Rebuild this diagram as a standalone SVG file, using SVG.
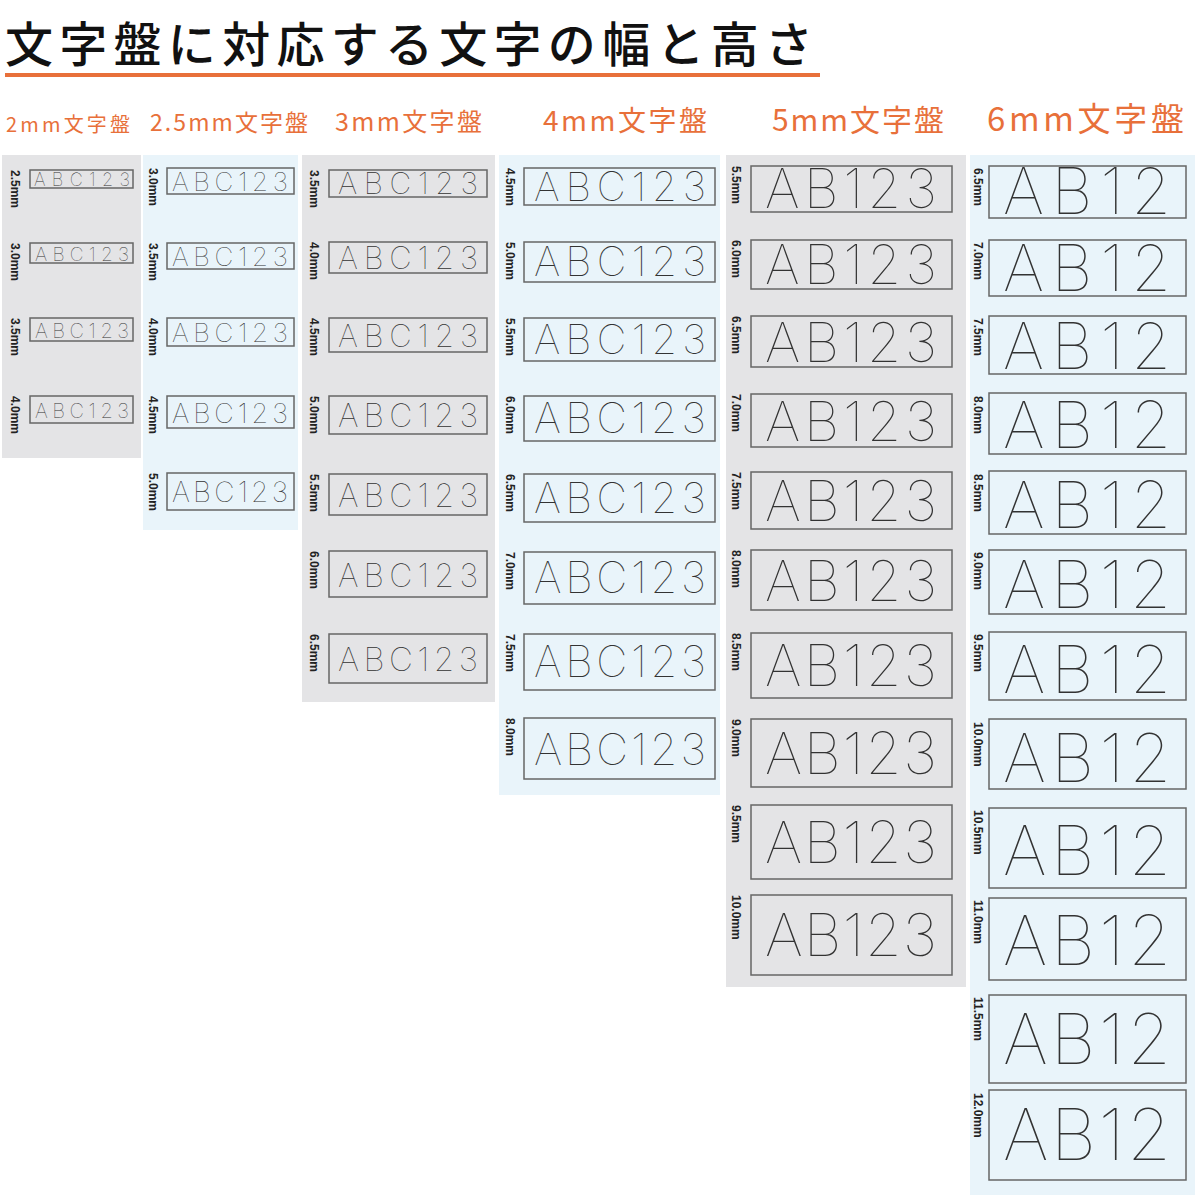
<svg xmlns="http://www.w3.org/2000/svg" width="1200" height="1200" viewBox="0 0 1200 1200">
<style>
.t{font-family:"Noto Sans CJK JP","Noto Sans",sans-serif}
.h{font-family:"Noto Sans CJK JP","Noto Sans",sans-serif;fill:#e8703a}
.b{fill:none;stroke:#666;stroke-width:1.5}
.c{font-family:Inter,"Noto Sans",sans-serif;font-weight:100;fill:#333;text-anchor:middle}
.l{font-family:"Liberation Sans",Arial,sans-serif;fill:#222;font-size:12px;font-weight:bold}
.g{fill:#e4e4e6}.u{fill:#e9f4fa}
</style>
<rect width="1200" height="1200" fill="#fff"/>
<text class="t" x="5" y="62" font-size="48" font-weight="500" fill="#111" textLength="808">文字盤に対応する文字の幅と高さ</text>
<rect x="5" y="73" width="815" height="4" fill="#e8703a"/>
<text class="h" x="6" y="132" font-size="20" textLength="124">2mm文字盤</text>
<text class="h" x="150" y="131" font-size="23" textLength="158">2.5mm文字盤</text>
<text class="h" x="335" y="131" font-size="25" textLength="147">3mm文字盤</text>
<text class="h" x="543" y="131" font-size="28" textLength="164">4mm文字盤</text>
<text class="h" x="772" y="131" font-size="30" textLength="172">5mm文字盤</text>
<text class="h" x="987" y="131" font-size="33" textLength="197">6mm文字盤</text>
<rect class="g" x="2" y="155" width="139" height="303"/>
<rect class="u" x="143" y="155" width="155" height="375"/>
<rect class="g" x="302" y="155" width="193" height="547"/>
<rect class="u" x="499" y="155" width="221" height="640"/>
<rect class="g" x="726" y="155" width="240" height="832"/>
<rect class="u" x="970" y="155" width="225" height="1040"/>
<g id="c1">
<rect class="b" x="30" y="170" width="103" height="18"/><text class="c" x="82" y="186" font-size="18" textLength="96">ABC123</text><text class="l" transform="translate(11,170) rotate(90)">2.5mm</text>
<rect class="b" x="30" y="243" width="103" height="20"/><text class="c" x="82" y="261" font-size="19" textLength="94">ABC123</text><text class="l" transform="translate(11,243) rotate(90)">3.0mm</text>
<rect class="b" x="30" y="318" width="103" height="23"/><text class="c" x="82" y="338" font-size="20" textLength="94">ABC123</text><text class="l" transform="translate(11,318) rotate(90)">3.5mm</text>
<rect class="b" x="30" y="396" width="103" height="27"/><text class="c" x="82" y="418" font-size="20" textLength="94">ABC123</text><text class="l" transform="translate(11,396) rotate(90)">4.0mm</text>
</g>
<g id="c2">
<rect class="b" x="167" y="168" width="127" height="26"/><text class="c" x="230" y="191" font-size="26" textLength="116">ABC123</text><text class="l" transform="translate(149,168) rotate(90)">3.0mm</text>
<rect class="b" x="167" y="243" width="127" height="26"/><text class="c" x="230" y="266" font-size="26" textLength="116">ABC123</text><text class="l" transform="translate(149,243) rotate(90)">3.5mm</text>
<rect class="b" x="167" y="318" width="127" height="28"/><text class="c" x="230" y="342" font-size="26" textLength="116">ABC123</text><text class="l" transform="translate(149,318) rotate(90)">4.0mm</text>
<rect class="b" x="167" y="396" width="127" height="32"/><text class="c" x="230" y="423" font-size="27" textLength="116">ABC123</text><text class="l" transform="translate(149,396) rotate(90)">4.5mm</text>
<rect class="b" x="167" y="473" width="127" height="37"/><text class="c" x="230" y="502" font-size="28" textLength="116">ABC123</text><text class="l" transform="translate(149,473) rotate(90)">5.0mm</text>
</g>
<g id="c3">
<rect class="b" x="329" y="170" width="158" height="27"/><text class="c" x="408" y="194" font-size="30" textLength="140">ABC123</text><text class="l" transform="translate(310,170) rotate(90)">3.5mm</text>
<rect class="b" x="329" y="242" width="158" height="31"/><text class="c" x="408" y="269" font-size="31" textLength="140">ABC123</text><text class="l" transform="translate(310,242) rotate(90)">4.0mm</text>
<rect class="b" x="329" y="318" width="158" height="34"/><text class="c" x="408" y="347" font-size="31" textLength="140">ABC123</text><text class="l" transform="translate(310,318) rotate(90)">4.5mm</text>
<rect class="b" x="329" y="396" width="158" height="38"/><text class="c" x="408" y="427" font-size="32" textLength="140">ABC123</text><text class="l" transform="translate(310,396) rotate(90)">5.0mm</text>
<rect class="b" x="329" y="474" width="158" height="41"/><text class="c" x="408" y="507" font-size="32" textLength="140">ABC123</text><text class="l" transform="translate(310,474) rotate(90)">5.5mm</text>
<rect class="b" x="329" y="551" width="158" height="46"/><text class="c" x="408" y="587" font-size="32" textLength="140">ABC123</text><text class="l" transform="translate(310,551) rotate(90)">6.0mm</text>
<rect class="b" x="329" y="634" width="158" height="49"/><text class="c" x="408" y="671" font-size="33" textLength="140">ABC123</text><text class="l" transform="translate(310,634) rotate(90)">6.5mm</text>
</g>
<g id="c4">
<rect class="b" x="524" y="168" width="191" height="37"/><text class="c" x="620" y="201" font-size="40" textLength="172">ABC123</text><text class="l" transform="translate(506,168) rotate(90)">4.5mm</text>
<rect class="b" x="524" y="242" width="191" height="40"/><text class="c" x="620" y="276" font-size="41" textLength="172">ABC123</text><text class="l" transform="translate(506,242) rotate(90)">5.0mm</text>
<rect class="b" x="524" y="318" width="191" height="43"/><text class="c" x="620" y="354" font-size="41" textLength="172">ABC123</text><text class="l" transform="translate(506,318) rotate(90)">5.5mm</text>
<rect class="b" x="524" y="396" width="191" height="45"/><text class="c" x="620" y="433" font-size="42" textLength="172">ABC123</text><text class="l" transform="translate(506,396) rotate(90)">6.0mm</text>
<rect class="b" x="524" y="474" width="191" height="48"/><text class="c" x="620" y="513" font-size="42" textLength="172">ABC123</text><text class="l" transform="translate(506,474) rotate(90)">6.5mm</text>
<rect class="b" x="524" y="552" width="191" height="52"/><text class="c" x="620" y="593" font-size="43" textLength="172">ABC123</text><text class="l" transform="translate(506,552) rotate(90)">7.0mm</text>
<rect class="b" x="524" y="634" width="191" height="56"/><text class="c" x="620" y="677" font-size="43" textLength="172">ABC123</text><text class="l" transform="translate(506,634) rotate(90)">7.5mm</text>
<rect class="b" x="524" y="718" width="191" height="61"/><text class="c" x="620" y="765" font-size="44" textLength="172">ABC123</text><text class="l" transform="translate(506,718) rotate(90)">8.0mm</text>
</g>
<g id="c5">
<rect class="b" x="751" y="166" width="201" height="46"/><text class="c" x="851" y="208" font-size="54" textLength="172">AB123</text><text class="l" transform="translate(732,166) rotate(90)">5.5mm</text>
<rect class="b" x="751" y="240" width="201" height="49"/><text class="c" x="851" y="284" font-size="54" textLength="172">AB123</text><text class="l" transform="translate(732,240) rotate(90)">6.0mm</text>
<rect class="b" x="751" y="316" width="201" height="51"/><text class="c" x="851" y="362" font-size="55" textLength="172">AB123</text><text class="l" transform="translate(732,316) rotate(90)">6.5mm</text>
<rect class="b" x="751" y="394" width="201" height="53"/><text class="c" x="851" y="441" font-size="55" textLength="172">AB123</text><text class="l" transform="translate(732,394) rotate(90)">7.0mm</text>
<rect class="b" x="751" y="472" width="201" height="57"/><text class="c" x="851" y="521" font-size="56" textLength="172">AB123</text><text class="l" transform="translate(732,472) rotate(90)">7.5mm</text>
<rect class="b" x="751" y="550" width="201" height="60"/><text class="c" x="851" y="601" font-size="56" textLength="172">AB123</text><text class="l" transform="translate(732,550) rotate(90)">8.0mm</text>
<rect class="b" x="751" y="633" width="201" height="65"/><text class="c" x="851" y="686" font-size="57" textLength="172">AB123</text><text class="l" transform="translate(732,633) rotate(90)">8.5mm</text>
<rect class="b" x="751" y="719" width="201" height="68"/><text class="c" x="851" y="774" font-size="58" textLength="172">AB123</text><text class="l" transform="translate(732,719) rotate(90)">9.0mm</text>
<rect class="b" x="751" y="805" width="201" height="74"/><text class="c" x="851" y="863" font-size="58" textLength="172">AB123</text><text class="l" transform="translate(732,805) rotate(90)">9.5mm</text>
<rect class="b" x="751" y="895" width="201" height="80"/><text class="c" x="851" y="956" font-size="59" textLength="172">AB123</text><text class="l" transform="translate(732,895) rotate(90)">10.0mm</text>
</g>
<g id="c6">
<rect class="b" x="989" y="166" width="197" height="52"/><text class="c" x="1087" y="214" font-size="64" textLength="168">AB12</text><text class="l" transform="translate(974,168) rotate(90)">6.5mm</text>
<rect class="b" x="989" y="240" width="197" height="56"/><text class="c" x="1087" y="291" font-size="64" textLength="168">AB12</text><text class="l" transform="translate(974,242) rotate(90)">7.0mm</text>
<rect class="b" x="989" y="316" width="197" height="58"/><text class="c" x="1087" y="369" font-size="64" textLength="168">AB12</text><text class="l" transform="translate(974,318) rotate(90)">7.5mm</text>
<rect class="b" x="989" y="393" width="197" height="61"/><text class="c" x="1087" y="448" font-size="65" textLength="168">AB12</text><text class="l" transform="translate(974,396) rotate(90)">8.0mm</text>
<rect class="b" x="989" y="471" width="197" height="63"/><text class="c" x="1087" y="528" font-size="65" textLength="168">AB12</text><text class="l" transform="translate(974,474) rotate(90)">8.5mm</text>
<rect class="b" x="989" y="550" width="197" height="64"/><text class="c" x="1087" y="608" font-size="66" textLength="168">AB12</text><text class="l" transform="translate(974,552) rotate(90)">9.0mm</text>
<rect class="b" x="989" y="632" width="197" height="68"/><text class="c" x="1087" y="693" font-size="66" textLength="168">AB12</text><text class="l" transform="translate(974,634) rotate(90)">9.5mm</text>
<rect class="b" x="989" y="719" width="197" height="70"/><text class="c" x="1087" y="782" font-size="67" textLength="168">AB12</text><text class="l" transform="translate(974,722) rotate(90)">10.0mm</text>
<rect class="b" x="989" y="808" width="197" height="80"/><text class="c" x="1087" y="875" font-size="68" textLength="168">AB12</text><text class="l" transform="translate(974,810) rotate(90)">10.5mm</text>
<rect class="b" x="989" y="898" width="197" height="82"/><text class="c" x="1087" y="965" font-size="69" textLength="168">AB12</text><text class="l" transform="translate(974,900) rotate(90)">11.0mm</text>
<rect class="b" x="989" y="995" width="197" height="88"/><text class="c" x="1087" y="1064" font-size="70" textLength="168">AB12</text><text class="l" transform="translate(974,997) rotate(90)">11.5mm</text>
<rect class="b" x="989" y="1090" width="197" height="90"/><text class="c" x="1087" y="1160" font-size="71" textLength="168">AB12</text><text class="l" transform="translate(974,1093) rotate(90)">12.0mm</text>
</g>
</svg>
